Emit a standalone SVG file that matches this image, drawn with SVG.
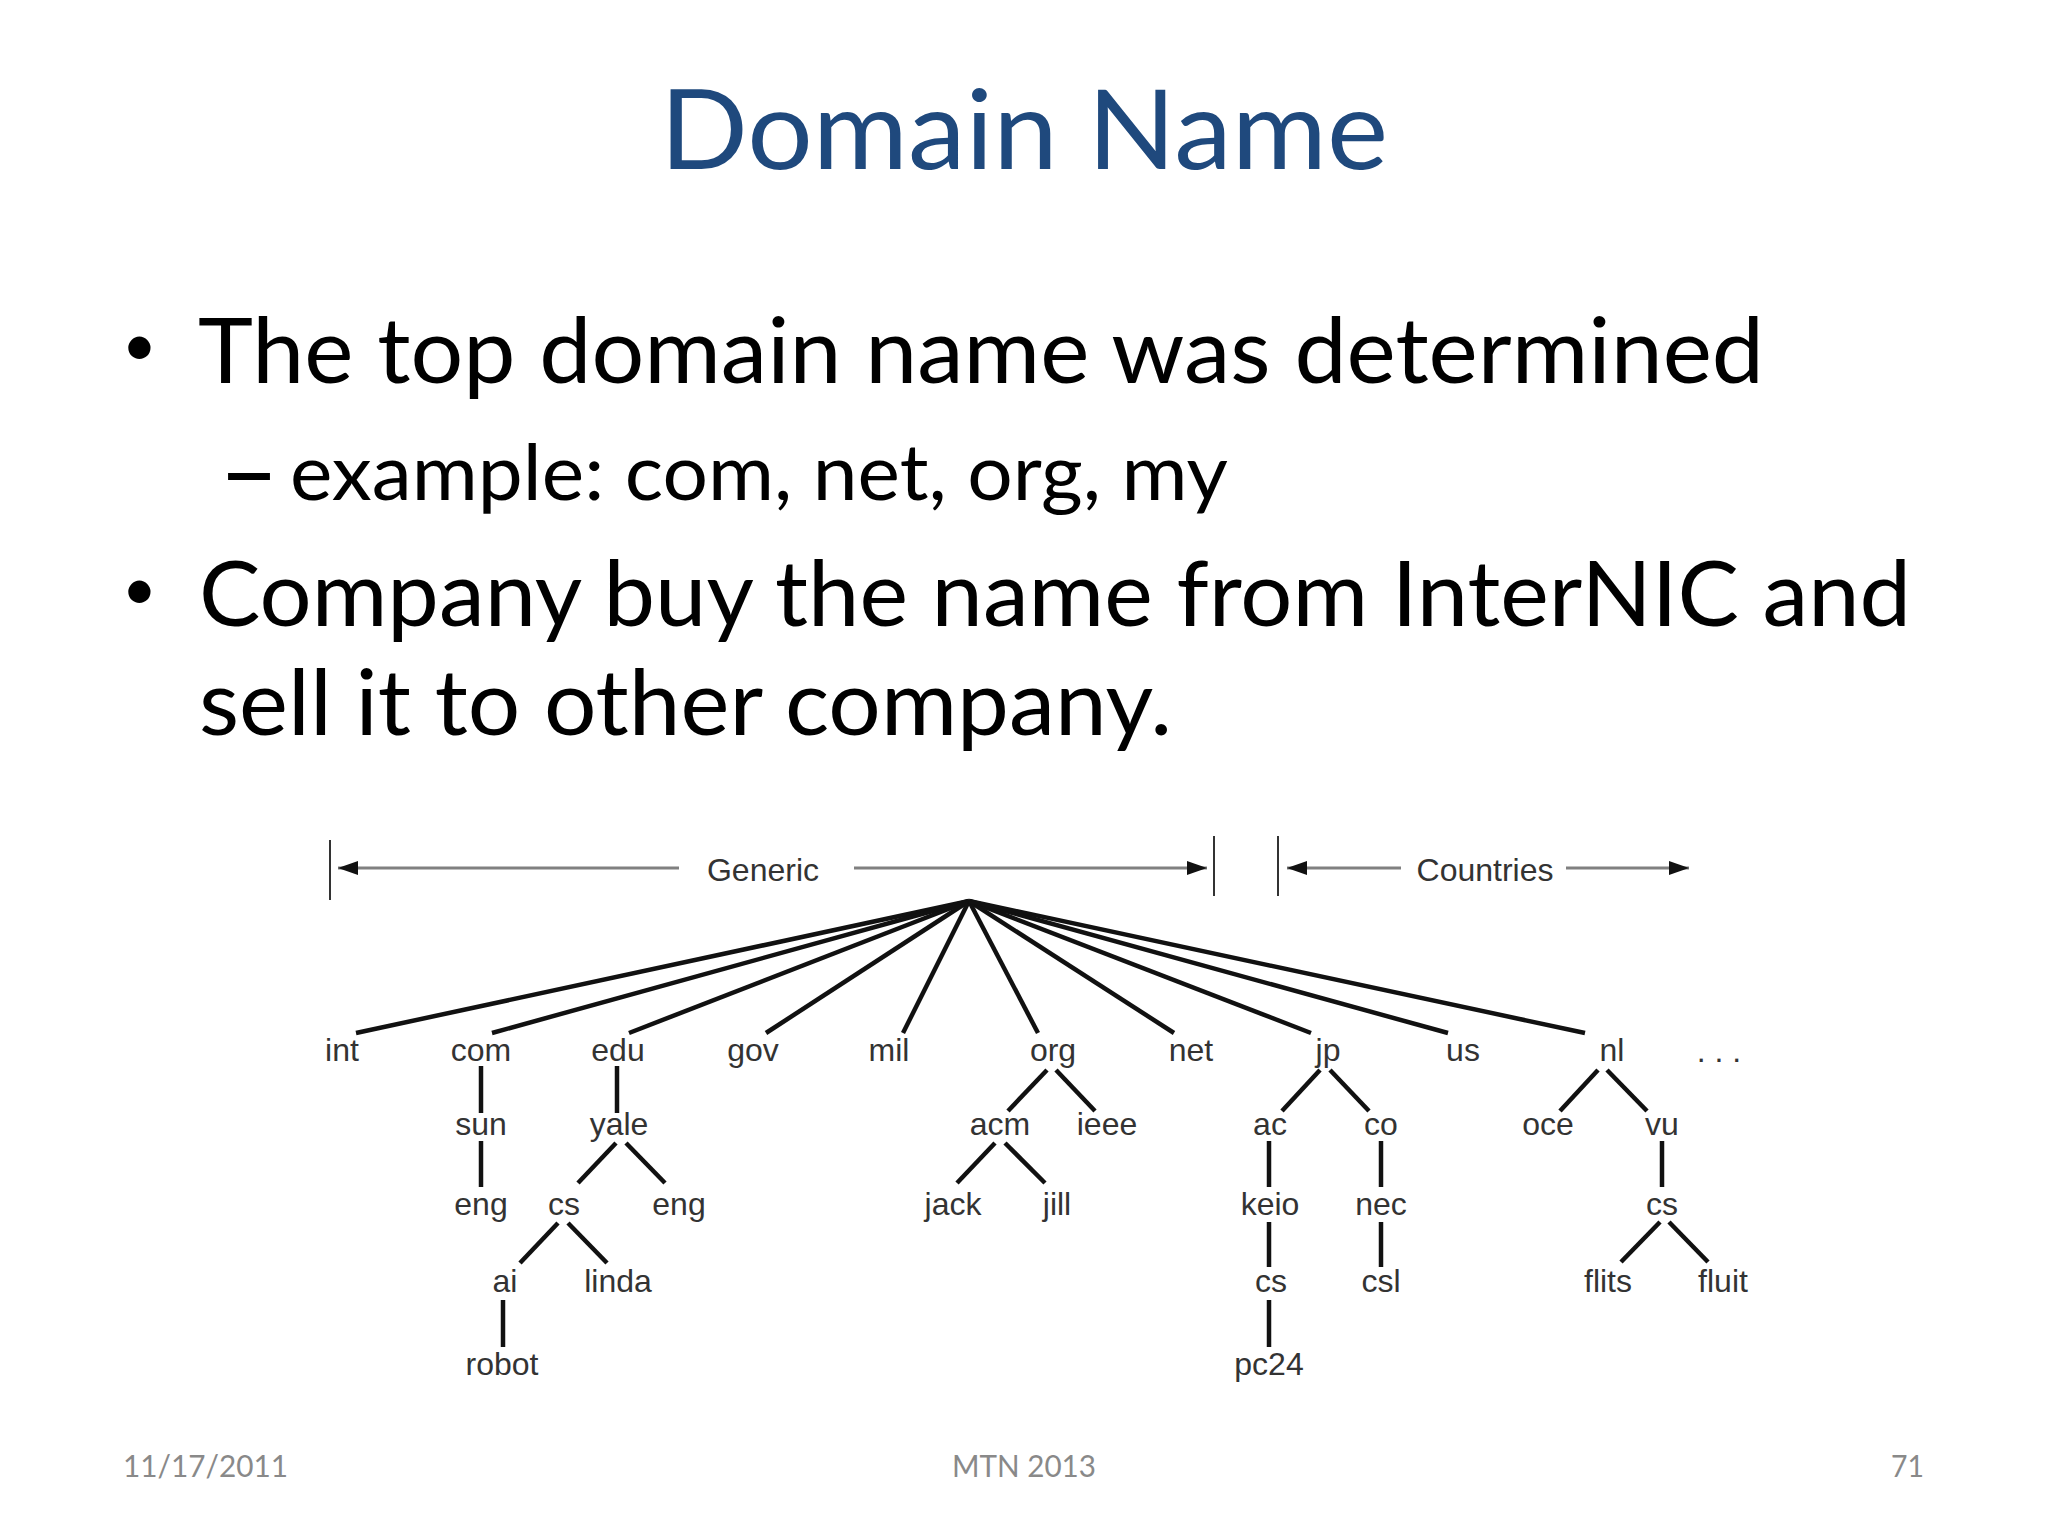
<svg xmlns="http://www.w3.org/2000/svg" width="2048" height="1536" viewBox="0 0 2048 1536">
<style>
.t{font-family:Lato,"Open Sans","Liberation Sans",sans-serif;fill:#000}
.b{font-size:92px}.s{font-size:78px}.u{font-size:60px}
.ft{font-family:Lato,"Open Sans","Liberation Sans",sans-serif;font-size:31px;fill:#898989}
.n text{font-family:"Liberation Sans",Arial,sans-serif;font-size:32px;fill:#333;text-anchor:middle}
.c line{stroke:#111;stroke-width:4.5;stroke-linecap:butt}
.d line{stroke:#808080;stroke-width:3}
.bar line{stroke:#333;stroke-width:2}
</style>
<defs>
<marker id="ah" viewBox="0 0 20 14" refX="20" refY="7" markerWidth="20" markerHeight="14" markerUnits="userSpaceOnUse" orient="auto-start-reverse"><path d="M0 0L20 7L0 14Z" fill="#111"/></marker>
</defs>
<rect width="2048" height="1536" fill="#fff"/>
<g id="slide-text">
<text x="660" y="169" class="t" font-size="110" style="fill:#1f497d" textLength="728" lengthAdjust="spacingAndGlyphs">Domain Name</text>
<text x="122" y="366" class="t u">•</text>
<text x="198" y="383" class="t b" textLength="1566" lengthAdjust="spacingAndGlyphs">The top domain name was determined</text>
<text x="219" y="500" class="t s" font-weight="700" textLength="60" lengthAdjust="spacingAndGlyphs">–</text>
<text x="290" y="500" class="t s" textLength="938" lengthAdjust="spacingAndGlyphs">example: com, net, org, my</text>
<text x="122" y="610" class="t u">•</text>
<text x="199" y="626" class="t b" textLength="1712" lengthAdjust="spacingAndGlyphs">Company buy the name from InterNIC and</text>
<text x="199" y="735" class="t b" textLength="973" lengthAdjust="spacingAndGlyphs">sell it to other company.</text>
<text x="123" y="1477" class="ft" textLength="165" lengthAdjust="spacingAndGlyphs">11/17/2011</text>
<text x="952" y="1477" class="ft" textLength="144" lengthAdjust="spacingAndGlyphs">MTN 2013</text>
<text x="1891" y="1477" class="ft" textLength="33" lengthAdjust="spacingAndGlyphs">71</text>
</g>
<g id="connectors">
<g class="bar">
<line x1="330" y1="840" x2="330" y2="900"/><line x1="1214" y1="836" x2="1214" y2="896"/><line x1="1278" y1="836" x2="1278" y2="896"/>
</g>
<g class="d">
<line x1="679" y1="868" x2="338" y2="868" marker-end="url(#ah)"/>
<line x1="854" y1="868" x2="1207" y2="868" marker-end="url(#ah)"/>
<line x1="1401" y1="868" x2="1287" y2="868" marker-end="url(#ah)"/>
<line x1="1566" y1="868" x2="1689" y2="868" marker-end="url(#ah)"/>
</g>
<g class="c">
<line x1="969" y1="901" x2="356" y2="1033"/><line x1="969" y1="901" x2="492" y2="1033"/><line x1="969" y1="901" x2="629" y2="1033"/><line x1="969" y1="901" x2="766" y2="1033"/><line x1="969" y1="901" x2="903" y2="1033"/><line x1="969" y1="901" x2="1038" y2="1033"/><line x1="969" y1="901" x2="1174" y2="1033"/><line x1="969" y1="901" x2="1311" y2="1033"/><line x1="969" y1="901" x2="1448" y2="1033"/><line x1="969" y1="901" x2="1585" y2="1033"/>
<line x1="481" y1="1066" x2="481" y2="1113"/><line x1="481" y1="1141" x2="481" y2="1187"/>
<line x1="617" y1="1066" x2="617" y2="1113"/>
<line x1="616" y1="1143" x2="578" y2="1183"/><line x1="626" y1="1143" x2="665" y2="1183"/>
<line x1="558" y1="1223" x2="520" y2="1263"/><line x1="568" y1="1223" x2="607" y2="1263"/>
<line x1="503" y1="1300" x2="503" y2="1347"/>
<line x1="1047" y1="1070" x2="1008" y2="1111"/><line x1="1056" y1="1070" x2="1095" y2="1111"/>
<line x1="995" y1="1143" x2="957" y2="1183"/><line x1="1005" y1="1143" x2="1045" y2="1183"/>
<line x1="1320" y1="1070" x2="1282" y2="1111"/><line x1="1330" y1="1070" x2="1369" y2="1111"/>
<line x1="1269" y1="1141" x2="1269" y2="1187"/><line x1="1269" y1="1222" x2="1269" y2="1267"/><line x1="1269" y1="1300" x2="1269" y2="1347"/>
<line x1="1381" y1="1141" x2="1381" y2="1187"/><line x1="1381" y1="1222" x2="1381" y2="1267"/>
<line x1="1598" y1="1070" x2="1560" y2="1111"/><line x1="1607" y1="1070" x2="1647" y2="1111"/>
<line x1="1662" y1="1141" x2="1662" y2="1187"/>
<line x1="1660" y1="1222" x2="1621" y2="1262"/><line x1="1669" y1="1222" x2="1708" y2="1262"/>
</g>
</g>
<g class="n">
<g id="generic"><text x="763" y="881">Generic</text></g>
<g id="countries"><text x="1485" y="881">Countries</text></g>
<g id="int"><text x="342" y="1061">int</text></g>
<g id="com"><text x="481" y="1061">com</text></g>
<g id="edu"><text x="618" y="1061">edu</text></g>
<g id="gov"><text x="753" y="1061">gov</text></g>
<g id="mil"><text x="889" y="1061">mil</text></g>
<g id="org"><text x="1053" y="1061">org</text></g>
<g id="net"><text x="1191" y="1061">net</text></g>
<g id="jp"><text x="1328" y="1061">jp</text></g>
<g id="us"><text x="1463" y="1061">us</text></g>
<g id="nl"><text x="1612" y="1061">nl</text></g>
<g id="more"><text x="1719" y="1062">. . .</text></g>
<g id="sun"><text x="481" y="1135">sun</text></g>
<g id="yale"><text x="619" y="1135">yale</text></g>
<g id="acm"><text x="1000" y="1135">acm</text></g>
<g id="ieee"><text x="1107" y="1135">ieee</text></g>
<g id="ac"><text x="1270" y="1135">ac</text></g>
<g id="co"><text x="1381" y="1135">co</text></g>
<g id="oce"><text x="1548" y="1135">oce</text></g>
<g id="vu"><text x="1662" y="1135">vu</text></g>
<g id="eng1"><text x="481" y="1215">eng</text></g>
<g id="cs1"><text x="564" y="1215">cs</text></g>
<g id="eng2"><text x="679" y="1215">eng</text></g>
<g id="jack"><text x="953" y="1215">jack</text></g>
<g id="jill"><text x="1057" y="1215">jill</text></g>
<g id="keio"><text x="1270" y="1215">keio</text></g>
<g id="nec"><text x="1381" y="1215">nec</text></g>
<g id="cs3"><text x="1662" y="1215">cs</text></g>
<g id="ai"><text x="505" y="1292">ai</text></g>
<g id="linda"><text x="618" y="1292">linda</text></g>
<g id="cs2"><text x="1271" y="1292">cs</text></g>
<g id="csl"><text x="1381" y="1292">csl</text></g>
<g id="flits"><text x="1608" y="1292">flits</text></g>
<g id="fluit"><text x="1723" y="1292">fluit</text></g>
<g id="robot"><text x="502" y="1375">robot</text></g>
<g id="pc24"><text x="1269" y="1375">pc24</text></g>
</g>
</svg>
